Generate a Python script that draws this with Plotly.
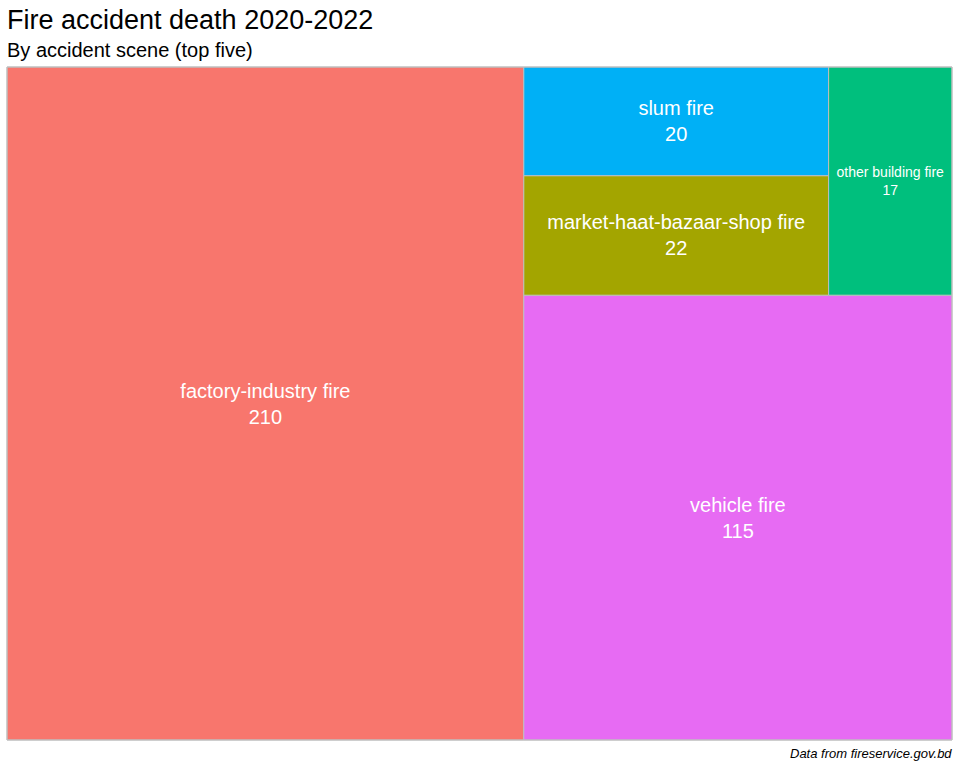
import plotly.graph_objects as go

# dati: decessi per scena dell'incidente (top cinque)
scenes = ['factory-industry fire', 'vehicle fire', 'market-haat-bazaar-shop fire',
          'slum fire', 'other building fire']
deaths = [210, 115, 22, 20, 17]
colors = ['#F8766D', '#E76BF3', '#A3A500', '#00B0F6', '#00BF7D']
label_sizes = [20, 20, 20, 20, 14]

W, H = 960, 768

fig = go.Figure(go.Treemap(
    labels=scenes,
    parents=[''] * len(scenes),
    values=deaths,
    sort=True,
    texttemplate='%{label}<br>%{value}',
    textposition='middle center',
    textfont=dict(color='white', size=label_sizes, family='Liberation Sans, Arial'),
    marker=dict(colors=colors, line=dict(color='#BEBEBE', width=1), pad=dict(t=0, l=0, r=0, b=0)),
    # ratio 1.5 -> stessa disposizione di treemapify (factory | vehicle sotto, piccoli sopra)
    tiling=dict(packing='squarify', squarifyratio=1.5, flip='y', pad=0),
    pathbar=dict(visible=False),
    hoverinfo='label+value',
    domain=dict(x=[7 / W, 952 / W], y=[1 - 740 / H, 1 - 67 / H]),
))

fig.update_layout(
    width=W, height=H,
    margin=dict(l=0, r=0, t=0, b=0),
    paper_bgcolor='white',
    font=dict(family='Liberation Sans, Arial', color='black'),
    annotations=[
        dict(text='Fire accident death 2020-2022', x=5 / W, y=1 - 3 / H, xref='paper', yref='paper',
             xanchor='left', yanchor='top', showarrow=False, font=dict(size=27)),
        dict(text='By accident scene (top five)', x=5 / W, y=1 - 37 / H, xref='paper', yref='paper',
             xanchor='left', yanchor='top', showarrow=False, font=dict(size=20)),
        dict(text='<i>Data from fireservice.gov.bd</i>', x=954 / W, y=1 - 744 / H, xref='paper', yref='paper',
             xanchor='right', yanchor='top', showarrow=False, font=dict(size=13)),
    ],
    shapes=[dict(type='rect', xref='paper', yref='paper', x0=7 / W, x1=952 / W,
                 y0=1 - 740 / H, y1=1 - 67 / H, line=dict(color='#BEBEBE', width=1))],
)

# niente margine del body, così la figura parte da (0, 0)
fig.write_html('out.html', config=dict(displayModeBar=False),
               post_script="document.body.style.margin='0';")
